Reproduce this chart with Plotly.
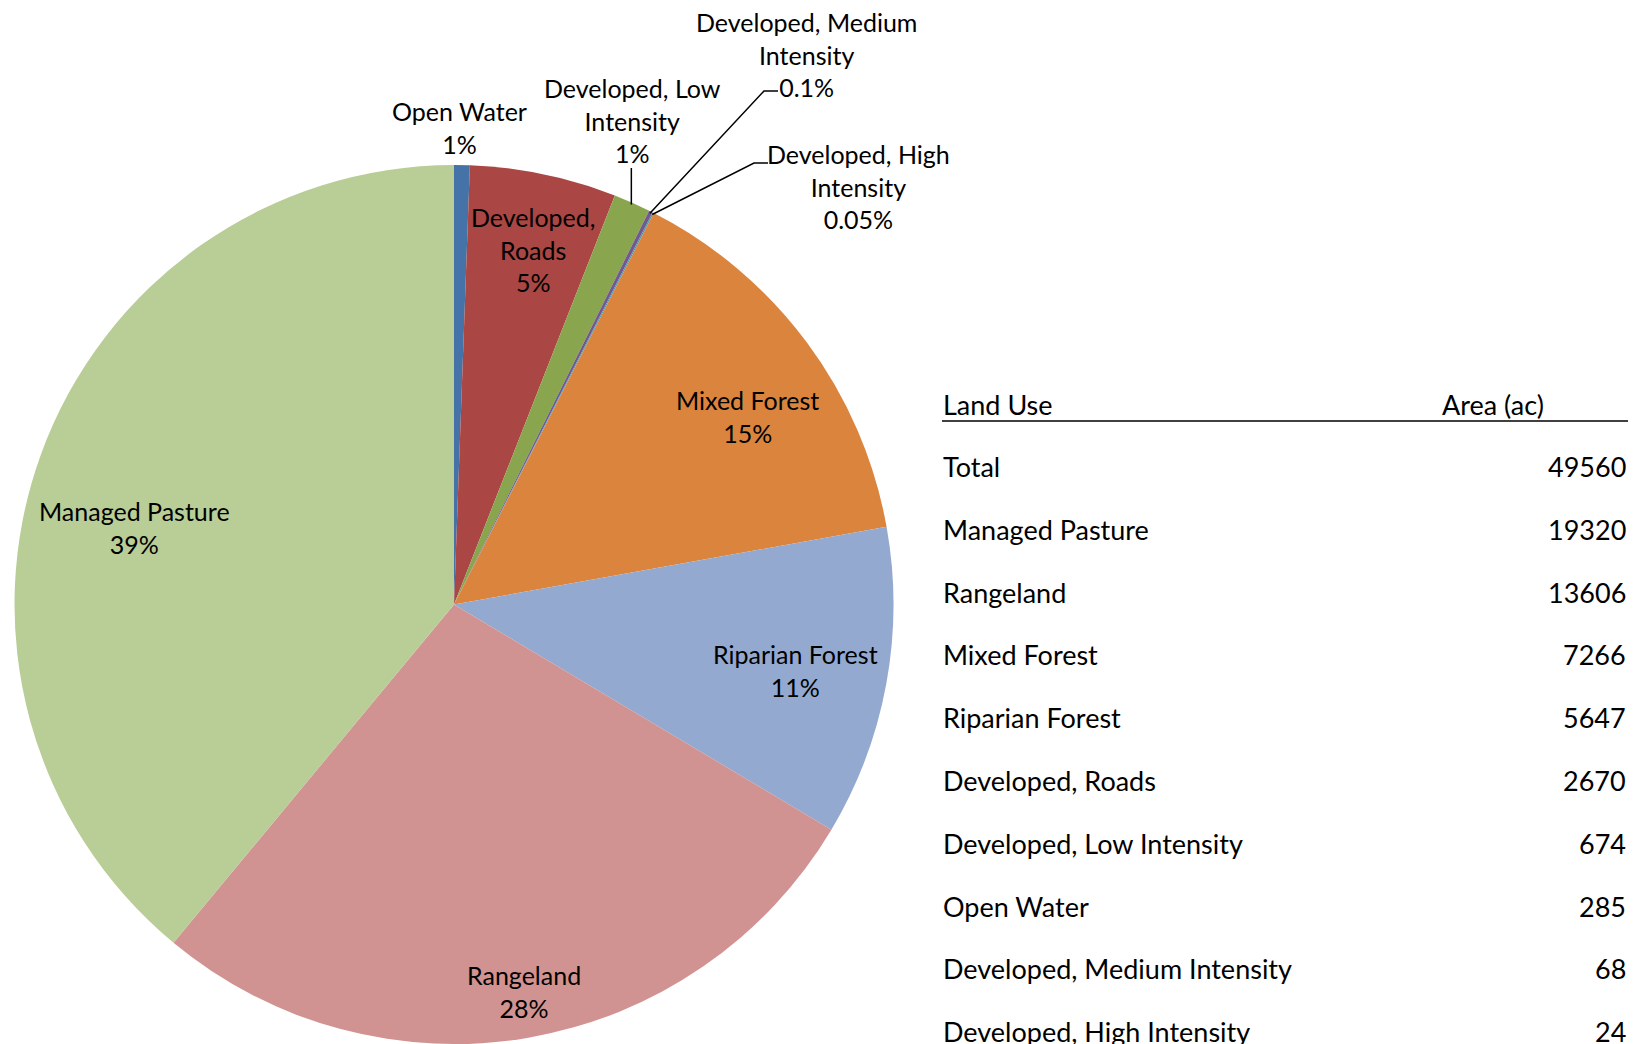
import math
import plotly.graph_objects as go

# ---- data ----
slice_labels = ["Open Water", "Developed, Roads", "Developed, Low Intensity",
                "Developed, Medium Intensity", "Developed, High Intensity",
                "Mixed Forest", "Riparian Forest", "Rangeland", "Managed Pasture"]
slice_values = [285, 2670, 674, 68, 24, 7266, 5647, 13606, 19320]
slice_pct_text = ["1%", "5%", "1%", "0.1%", "0.05%", "15%", "11%", "28%", "39%"]
slice_colors = ["#4572A7", "#AA4643", "#89A54E", "#71588F", "#4198AF",
                "#DB843D", "#93A9CF", "#D19392", "#B9CD96"]

table_header = ["Land Use", "Area (ac)"]
table_names = ["Total", "Managed Pasture", "Rangeland", "Mixed Forest", "Riparian Forest",
               "Developed, Roads", "Developed, Low Intensity", "Open Water",
               "Developed, Medium Intensity", "Developed, High Intensity"]
table_areas = [49560, 19320, 13606, 7266, 5647, 2670, 674, 285, 68, 24]

# ---- layout constants ----
OFF = 8                      # page body margin
W, H = 1647 - OFF, 1044 - OFF
FONT = "Lato"
CX, CY, R = 454.0, 604.5, 439.5   # pie centre / radius in page pixels

def px(x):
    return (x - OFF) / W

def py(y):
    return 1 - (y - OFF) / H

fig = go.Figure()
fig.add_trace(go.Pie(
    labels=slice_labels, values=slice_values, sort=False, direction="clockwise",
    rotation=0, textinfo="none", hoverinfo="skip",
    marker=dict(colors=slice_colors, line=dict(width=0)),
    domain=dict(x=[px(CX - R), px(CX + R)], y=[max(0, py(CY + R)), py(CY - R)]),
    showlegend=False,
))

label_lines = {
    "Open Water": ["Open Water"],
    "Developed, Roads": ["Developed,", "Roads"],
    "Developed, Low Intensity": ["Developed, Low", "Intensity"],
    "Developed, Medium Intensity": ["Developed, Medium", "Intensity"],
    "Developed, High Intensity": ["Developed, High", "Intensity"],
    "Mixed Forest": ["Mixed Forest"],
    "Riparian Forest": ["Riparian Forest"],
    "Rangeland": ["Rangeland"],
    "Managed Pasture": ["Managed Pasture"],
}
label_pos = {
    "Open Water": (460, 128),
    "Developed, Roads": (533, 250),
    "Developed, Low Intensity": (632, 120),
    "Developed, Medium Intensity": (806, 54),
    "Developed, High Intensity": (858, 187),
    "Mixed Forest": (747, 416),
    "Riparian Forest": (795, 670),
    "Rangeland": (524, 991),
    "Managed Pasture": (134, 527),
}
LABEL_SIZE = 25
annotations = []
for name, pct in zip(slice_labels, slice_pct_text):
    x, y = label_pos[name]
    text = "<br>".join(label_lines[name] + [pct])
    annotations.append(dict(
        x=px(x), y=py(y), xref="paper", yref="paper", text=text, showarrow=False,
        xanchor="center", yanchor="middle", align="center", borderpad=0,
        font=dict(family=FONT, size=LABEL_SIZE, color="#000000"),
    ))

total = sum(slice_values)
cum = 0
mid_frac = {}
for name, v in zip(slice_labels, slice_values):
    mid_frac[name] = (cum + v / 2) / total
    cum += v

def edge_point(name, rr=R):
    a = 2 * math.pi * mid_frac[name]
    return CX + rr * math.sin(a), CY - rr * math.cos(a)

leader_elbows = {
    "Developed, Low Intensity": [(None, 168)],
    "Developed, Medium Intensity": [(764, 91), (778, 91)],
    "Developed, High Intensity": [(754, 163), (768, 163)],
}
shapes = []
for name, pts in leader_elbows.items():
    ex, ey = edge_point(name, R - 2)
    pts = [(ex if a is None else a, b) for a, b in pts]
    path_pts = [(ex, ey)] + pts
    d = "M " + " L ".join(f"{px(a)},{py(b)}" for a, b in path_pts)
    shapes.append(dict(type="path", xref="paper", yref="paper", path=d,
                       line=dict(color="#000000", width=1.5)))

# ---- table ----
TX_L, TX_R = 941, 1628
TABLE_SIZE = 27
annotations.append(dict(x=px(TX_L), y=py(404), xref="paper", yref="paper",
                        text=table_header[0], showarrow=False, xanchor="left", yanchor="middle",
                        font=dict(family=FONT, size=TABLE_SIZE, color="#000000")))
annotations.append(dict(x=px(1546), y=py(404), xref="paper", yref="paper",
                        text=table_header[1], showarrow=False, xanchor="right", yanchor="middle",
                        font=dict(family=FONT, size=TABLE_SIZE, color="#000000")))
shapes.append(dict(type="line", xref="paper", yref="paper", x0=px(942), x1=px(TX_R),
                   y0=py(421), y1=py(421), line=dict(color="#000000", width=1.5)))
ROW0, ROW_STEP = 466.5, 62.8
for i, (n, a) in enumerate(zip(table_names, table_areas)):
    yy = ROW0 + i * ROW_STEP
    annotations.append(dict(x=px(TX_L), y=py(yy), xref="paper", yref="paper", text=n,
                            showarrow=False, xanchor="left", yanchor="middle",
                            font=dict(family=FONT, size=TABLE_SIZE, color="#000000")))
    annotations.append(dict(x=px(TX_R), y=py(yy), xref="paper", yref="paper", text=str(a),
                            showarrow=False, xanchor="right", yanchor="middle",
                            font=dict(family=FONT, size=TABLE_SIZE, color="#000000")))

fig.update_layout(
    width=W, height=H, margin=dict(l=0, r=0, t=0, b=0),
    paper_bgcolor="#FFFFFF", plot_bgcolor="#FFFFFF",
    annotations=annotations, shapes=shapes, showlegend=False,
)
fig.write_html("out.html")
